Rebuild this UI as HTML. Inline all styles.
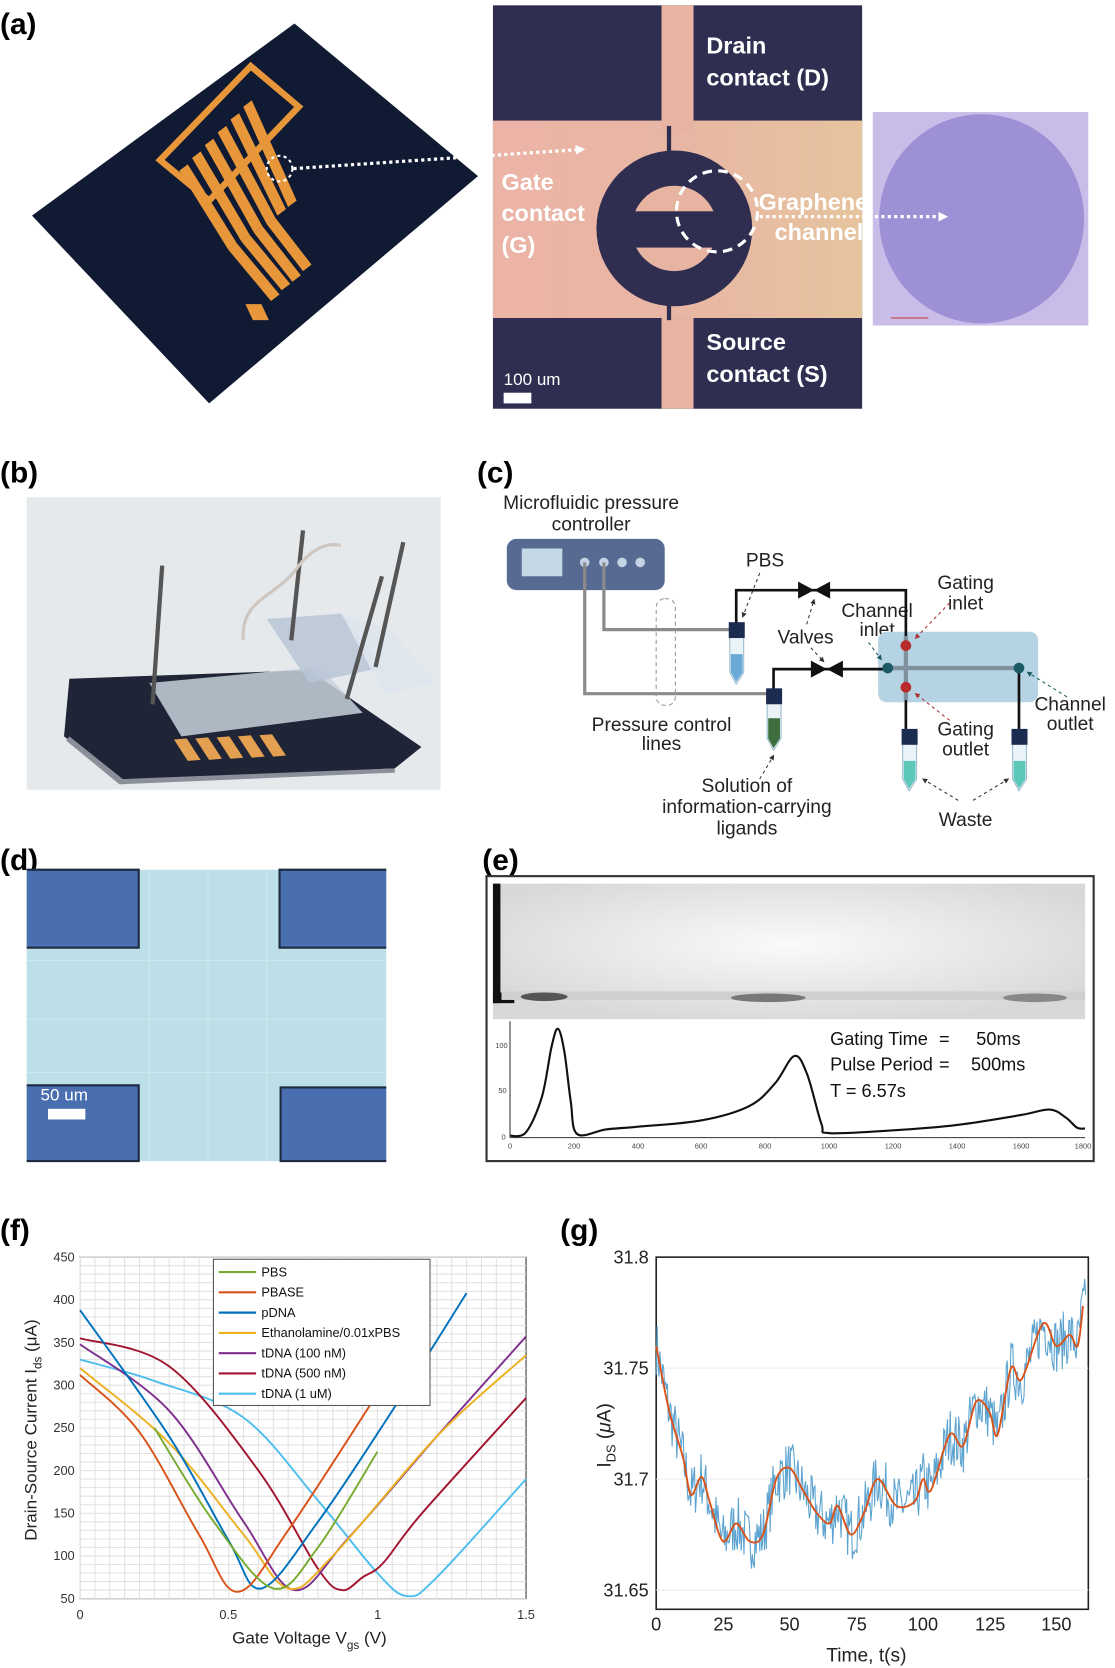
<!DOCTYPE html>
<html><head><meta charset="utf-8"><style>
html,body{margin:0;padding:0;background:#fff;}
svg{display:block;}
text{font-family:"Liberation Sans",Arial,sans-serif;}
</style></head><body>
<svg id="s" width="1115" height="1668" viewBox="0 0 1045 1563" preserveAspectRatio="none" xmlns="http://www.w3.org/2000/svg">
<defs>
<linearGradient id="gb" x1="0" x2="1"><stop offset="0" stop-color="#ecb4a6"/><stop offset="0.5" stop-color="#e8b6a4"/><stop offset="1" stop-color="#e6c49e"/></linearGradient>
<radialGradient id="gp" cx="0.5" cy="0.45" r="0.6"><stop offset="0" stop-color="#fafafa"/><stop offset="1" stop-color="#d8d8d8"/></radialGradient>
<marker id="ah" viewBox="0 0 10 10" refX="8" refY="5" markerWidth="5" markerHeight="5" orient="auto"><path d="M0,0 L10,5 L0,10 z" fill="#333"/></marker>
<marker id="ahr" viewBox="0 0 10 10" refX="8" refY="5" markerWidth="5" markerHeight="5" orient="auto"><path d="M0,0 L10,5 L0,10 z" fill="#a33"/></marker>
<marker id="aht" viewBox="0 0 10 10" refX="8" refY="5" markerWidth="5" markerHeight="5" orient="auto"><path d="M0,0 L10,5 L0,10 z" fill="#1c5a66"/></marker>
<marker id="ahw" viewBox="0 0 10 10" refX="6" refY="5" markerWidth="3" markerHeight="3" orient="auto"><path d="M0,0 L10,5 L0,10 z" fill="#fff"/></marker>
</defs>

<!-- ========== (a) ========== -->
<text x="0" y="32" font-size="28" font-weight="bold">(a)</text>
<polygon points="276,22 448,165 196,378 30,202" fill="#101a33"/>
<g fill="#e8963a">
<polygon points="150,150 235,62 280,100 196,188" fill="none" stroke="#e8963a" stroke-width="6"/>
<polygon points="168,160 176,154 222,228 214,234"/>
<polygon points="180,148 188,142 234,220 226,226"/>
<polygon points="192,136 200,130 246,212 238,218"/>
<polygon points="204,124 212,118 258,204 250,210"/>
<polygon points="216,112 224,106 268,196 260,202"/>
<polygon points="228,100 236,94 278,188 270,194"/>
<polygon points="214,234 222,228 262,276 254,282"/>
<polygon points="226,226 234,220 272,266 264,272"/>
<polygon points="238,218 246,212 282,258 274,264"/>
<polygon points="250,210 258,204 292,248 284,254"/>
<polygon points="230,285 245,285 252,300 237,300"/>
</g>

<rect x="462" y="5" width="346" height="378" fill="#2f2e50"/>
<rect x="462" y="113" width="346" height="185" fill="url(#gb)"/>
<rect x="620" y="5" width="30" height="120" fill="#e6b4a0"/>
<rect x="620" y="298" width="30" height="85" fill="#e6b4a0"/>
<rect x="625" y="118" width="4" height="182" fill="#2f2e50"/>
<circle cx="632" cy="214" r="73" fill="#2f2e50"/>
<circle cx="632" cy="214" r="40" fill="#e6b4a0"/>
<rect x="590" y="198" width="84" height="34" fill="#2f2e50"/>
<circle cx="672" cy="198" r="38" fill="none" stroke="#fff" stroke-width="3" stroke-dasharray="9,6"/>

<rect x="818" y="105" width="202" height="200" fill="#c9bce8"/>
<ellipse cx="920" cy="205" rx="96" ry="98" fill="#9d90d4"/>
<line x1="870" y1="298" x2="835" y2="298" stroke="#c33" stroke-width="1"/>

<circle cx="262" cy="158" r="12" fill="none" stroke="#fff" stroke-width="2" stroke-dasharray="3,3"/>
<line x1="275" y1="158" x2="545" y2="140" stroke="#fff" stroke-width="3" stroke-dasharray="3,3" marker-end="url(#ahw)"/>
<line x1="712" y1="203" x2="885" y2="203" stroke="#fff" stroke-width="3" stroke-dasharray="3,3" marker-end="url(#ahw)"/>
<g fill="#fff" font-weight="bold" font-size="22">
<text x="662" y="50">Drain</text><text x="662" y="80">contact (D)</text>
<text x="470" y="178">Gate</text><text x="470" y="207">contact</text><text x="470" y="237">(G)</text>
<text x="711" y="197">Graphene</text><text x="726" y="225">channel</text>
<text x="662" y="328">Source</text><text x="662" y="358">contact (S)</text>
</g>
<text x="472" y="361" font-size="16" fill="#fff">100 um</text>
<rect x="472" y="368" width="26" height="10" fill="#fff"/>

<!-- ========== (b) ========== -->
<text x="0" y="452" font-size="28" font-weight="bold">(b)</text>
<rect x="25" y="466" width="388" height="274" fill="#e6e9ec"/>
<polygon points="65,636 290,628 395,700 370,720 115,732 60,690" fill="#1f2536"/>
<polygon points="65,690 115,730 370,720 370,724 112,735 62,694" fill="#8a8f9a"/>
<polygon points="140,640 300,625 340,668 170,690" fill="#c8d2dc" opacity="0.85"/>
<polygon points="250,580 320,575 360,625 290,640" fill="#b8c6d6" opacity="0.85"/>
<polygon points="320,575 365,590 410,640 360,650" fill="#dfe6ee" opacity="0.9"/>
<g fill="#e3a050">
<polygon points="163,693 175,692 188,712 176,713"/><polygon points="183,692 195,691 208,711 196,712"/>
<polygon points="203,691 215,690 228,710 216,711"/><polygon points="223,690 235,689 248,709 236,710"/>
<polygon points="243,689 255,688 268,708 256,709"/>
</g>
<g stroke="#555" stroke-width="4">
<line x1="152" y1="530" x2="143" y2="660"/><line x1="284" y1="497" x2="273" y2="600"/>
<line x1="358" y1="540" x2="325" y2="655"/><line x1="378" y1="508" x2="352" y2="625"/>
</g>
<path d="M228,600 C225,560 260,560 280,530 C300,505 320,510 318,512" fill="none" stroke="#cfc6c0" stroke-width="3"/>

<!-- ========== (c) ========== -->
<text x="447" y="452" font-size="28" font-weight="bold">(c)</text>
<g font-size="18" fill="#222" text-anchor="middle">
<text x="554" y="477">Microfluidic pressure</text><text x="554" y="497">controller</text>
<text x="717" y="531">PBS</text>
<text x="755" y="603">Valves</text>
<text x="822" y="578">Channel</text><text x="822" y="596">inlet</text>
<text x="905" y="552">Gating</text><text x="905" y="571">inlet</text>
<text x="1003" y="666">Channel</text><text x="1003" y="684">outlet</text>
<text x="905" y="689">Gating</text><text x="905" y="708">outlet</text>
<text x="620" y="685">Pressure control</text><text x="620" y="703">lines</text>
<text x="700" y="742">Solution of</text><text x="700" y="762">information-carrying</text><text x="700" y="782">ligands</text>
<text x="905" y="774">Waste</text>
</g>
<rect x="475" y="505" width="148" height="48" rx="9" fill="#566a92"/>
<rect x="489" y="514" width="38" height="26" fill="#c4d8e8"/>
<g fill="#c4d4e6"><circle cx="548" cy="527" r="4.5"/><circle cx="566" cy="527" r="4.5"/><circle cx="583" cy="527" r="4.5"/><circle cx="600" cy="527" r="4.5"/></g>
<g fill="none" stroke="#8a8a8a" stroke-width="3">
<polyline points="548,527 548,650 722,650"/><polyline points="566,527 566,590 688,590"/>
</g>
<rect x="615" y="561" width="18" height="100" rx="8" fill="none" stroke="#999" stroke-dasharray="4,3"/>
<rect x="823" y="592" width="150" height="66" rx="8" fill="#b6d3e3"/>
<g fill="none" stroke="#111" stroke-width="2.5">
<polyline points="690,586 690,553 849,553 849,600"/>
<polyline points="725,646 725,627 832,627"/>
<polyline points="849,648 849,685"/><polyline points="955,627 955,685"/>
</g>
<g fill="#111">
<polygon points="748,545 763,553 748,561"/><polygon points="778,545 763,553 778,561"/>
<polygon points="760,619 775,627 760,635"/><polygon points="790,619 775,627 790,635"/>
</g>
<g stroke="#7f919c" stroke-width="4"><line x1="832" y1="626" x2="955" y2="626"/><line x1="849" y1="596" x2="849" y2="656"/></g>
<circle cx="849" cy="605" r="5" fill="#b82c2c"/><circle cx="849" cy="644" r="5" fill="#b82c2c"/>
<circle cx="832" cy="626" r="5" fill="#1c5a66"/><circle cx="955" cy="626" r="5" fill="#1c5a66"/>
<g>
<rect x="683" y="583" width="15" height="15" fill="#1c2b50"/>
<path d="M684,598 L684,630 L690,641 L697,630 L697,598" fill="#eaf3f8" stroke="#9bbbd0"/>
<path d="M685,613 L685,630 L690,639 L696,630 L696,613z" fill="#6aaad8"/>
<rect x="718" y="645" width="15" height="15" fill="#1c2b50"/>
<path d="M719,660 L719,692 L725,703 L732,692 L732,660" fill="#eaf3f8" stroke="#9bbbd0"/>
<path d="M720,673 L720,692 L725,701 L731,692 L731,673z" fill="#3e6e3e"/>
<rect x="845" y="683" width="15" height="15" fill="#1c2b50"/>
<path d="M846,698 L846,730 L852,741 L859,730 L859,698" fill="#eaf3f8" stroke="#9bbbd0"/>
<path d="M847,713 L847,730 L852,739 L858,730 L858,713z" fill="#5cc8b8"/>
<rect x="948" y="683" width="15" height="15" fill="#1c2b50"/>
<path d="M949,698 L949,730 L955,741 L962,730 L962,698" fill="#eaf3f8" stroke="#9bbbd0"/>
<path d="M950,713 L950,730 L955,739 L961,730 L961,713z" fill="#5cc8b8"/>
</g>
<g stroke="#333" stroke-width="1" stroke-dasharray="3,3" fill="none">
<line x1="712" y1="537" x2="696" y2="578" marker-end="url(#ah)"/>
<line x1="756" y1="585" x2="763" y2="562" marker-end="url(#ah)"/>
<line x1="760" y1="607" x2="772" y2="620" marker-end="url(#ah)"/>
<line x1="814" y1="602" x2="826" y2="618" stroke="#1c5a66" marker-end="url(#aht)"/>
<line x1="712" y1="730" x2="725" y2="708" marker-end="url(#ah)"/>
<line x1="898" y1="750" x2="865" y2="730" marker-end="url(#ah)"/>
<line x1="912" y1="750" x2="945" y2="730" marker-end="url(#ah)"/>
<line x1="1000" y1="653" x2="963" y2="630" marker-end="url(#aht)" stroke="#1c5a66"/>
<line x1="890" y1="565" x2="858" y2="598" stroke="#a33" marker-end="url(#ahr)"/>
<line x1="890" y1="675" x2="858" y2="650" stroke="#a33" marker-end="url(#ahr)"/>
</g>

<!-- ========== (d) ========== -->
<text x="0" y="815" font-size="28" font-weight="bold">(d)</text>
<rect x="25" y="815" width="337" height="273" fill="#bde0e8"/>
<g stroke="#cbe8ee" stroke-width="1">
<line x1="140" y1="815" x2="140" y2="1088"/><line x1="195" y1="815" x2="195" y2="1088"/><line x1="250" y1="815" x2="250" y2="1088"/>
<line x1="25" y1="900" x2="362" y2="900"/><line x1="25" y1="955" x2="362" y2="955"/><line x1="25" y1="1005" x2="362" y2="1005"/>
</g>
<g fill="#4a6fb0" stroke="#1e2a40" stroke-width="2">
<path d="M25,815 H130 V888 H25" /><path d="M362,815 H262 V888 H362"/>
<path d="M25,1088 H130 V1017 H25"/><path d="M362,1088 H263 V1019 H362"/>
</g>
<text x="38" y="1031" font-size="16" fill="#fff">50 um</text>
<rect x="45" y="1039" width="35" height="10" fill="#fff"/>

<!-- ========== (e) ========== -->
<text x="452" y="815" font-size="28" font-weight="bold">(e)</text>
<rect x="456" y="821" width="569" height="267" fill="#fff" stroke="#333" stroke-width="2"/>
<rect x="462" y="828" width="555" height="127" fill="url(#gp)"/>
<rect x="462" y="828" width="7" height="112" fill="#111"/>
<rect x="462" y="930" width="20" height="10" fill="#111"/>
<rect x="470" y="929" width="547" height="8" fill="#d0d0d0"/>
<ellipse cx="510" cy="934" rx="22" ry="4" fill="#555"/>
<ellipse cx="720" cy="935" rx="35" ry="4" fill="#777"/>
<ellipse cx="970" cy="935" rx="30" ry="4" fill="#888"/>
<g stroke="#333" stroke-width="1"><line x1="478" y1="957" x2="478" y2="1066"/><line x1="478" y1="1066" x2="1017" y2="1066"/></g>
<g font-size="7" fill="#444" text-anchor="middle">
<text x="478" y="1076">0</text><text x="538" y="1076">200</text><text x="598" y="1076">400</text><text x="657" y="1076">600</text><text x="717" y="1076">800</text><text x="777" y="1076">1000</text><text x="837" y="1076">1200</text><text x="897" y="1076">1400</text><text x="957" y="1076">1600</text><text x="1015" y="1076">1800</text>
<text x="470" y="982">100</text><text x="471" y="1024">50</text><text x="472" y="1068">0</text>
</g>
<path id="ecurve" fill="none" stroke="#111" stroke-width="2"/>
<g font-size="17" fill="#111">
<text x="778" y="979">Gating Time</text><text x="880" y="979">=</text><text x="915" y="979">50ms</text>
<text x="778" y="1003">Pulse Period</text><text x="880" y="1003">=</text><text x="910" y="1003">500ms</text>
<text x="778" y="1028">T = 6.57s</text>
</g>

<!-- ========== (f) ========== -->
<text x="0" y="1162" font-size="28" font-weight="bold">(f)</text>
<rect x="75" y="1178" width="418" height="320" fill="#fff" stroke="#333" stroke-width="1"/>
<g id="fgrid" stroke="#e2e2e2" stroke-width="1"></g>
<g id="fcurves" fill="none" stroke-width="1.8"></g>
<rect x="200" y="1180" width="203" height="137" fill="#fff" stroke="#555"/>
<g font-size="12" fill="#111">
<line x1="205" y1="1192" x2="240" y2="1192" stroke="#77ac30" stroke-width="2"/><text x="245" y="1196">PBS</text>
<line x1="205" y1="1211" x2="240" y2="1211" stroke="#d95319" stroke-width="2"/><text x="245" y="1215">PBASE</text>
<line x1="205" y1="1230" x2="240" y2="1230" stroke="#0072bd" stroke-width="2"/><text x="245" y="1234">pDNA</text>
<line x1="205" y1="1249" x2="240" y2="1249" stroke="#edb120" stroke-width="2"/><text x="245" y="1253">Ethanolamine/0.01xPBS</text>
<line x1="205" y1="1268" x2="240" y2="1268" stroke="#7e2f8e" stroke-width="2"/><text x="245" y="1272">tDNA (100 nM)</text>
<line x1="205" y1="1287" x2="240" y2="1287" stroke="#a2142f" stroke-width="2"/><text x="245" y="1291">tDNA (500 nM)</text>
<line x1="205" y1="1306" x2="240" y2="1306" stroke="#4dbeee" stroke-width="2"/><text x="245" y="1310">tDNA (1 uM)</text>
</g>
<g font-size="12" fill="#333" text-anchor="end">
<text x="70" y="1182">450</text><text x="70" y="1222">400</text><text x="70" y="1262">350</text><text x="70" y="1302">300</text><text x="70" y="1342">250</text><text x="70" y="1382">200</text><text x="70" y="1422">150</text><text x="70" y="1462">100</text><text x="70" y="1502">50</text>
</g>
<g font-size="12" fill="#333" text-anchor="middle">
<text x="75" y="1517">0</text><text x="214" y="1517">0.5</text><text x="354" y="1517">1</text><text x="493" y="1517">1.5</text>
</g>
<text x="290" y="1540" font-size="16" text-anchor="middle" fill="#222">Gate Voltage V<tspan font-size="11" dy="5">gs</tspan><tspan dy="-5"> (V)</tspan></text>
<text transform="translate(34,1340) rotate(-90)" font-size="16" text-anchor="middle" fill="#222">Drain-Source Current I<tspan font-size="11" dy="5">ds</tspan><tspan dy="-5"> (μA)</tspan></text>

<!-- ========== (g) ========== -->
<text x="525" y="1162" font-size="28" font-weight="bold">(g)</text>
<rect x="615" y="1178" width="405" height="330" fill="#fff" stroke="#222" stroke-width="1.5"/>
<g stroke="#eee"><line x1="615" y1="1282" x2="1020" y2="1282"/><line x1="615" y1="1386" x2="1020" y2="1386"/><line x1="615" y1="1490" x2="1020" y2="1490"/></g>
<path id="gblue" fill="none" stroke="#5aa2d0" stroke-width="1"/>
<path id="gorange" fill="none" stroke="#d9541a" stroke-width="1.8"/>
<g font-size="17" fill="#222" text-anchor="end">
<text x="608" y="1184">31.8</text><text x="608" y="1288">31.75</text><text x="608" y="1392">31.7</text><text x="608" y="1496">31.65</text>
</g>
<g font-size="17" fill="#222" text-anchor="middle">
<text x="615" y="1528">0</text><text x="678" y="1528">25</text><text x="740" y="1528">50</text><text x="803" y="1528">75</text><text x="865" y="1528">100</text><text x="928" y="1528">125</text><text x="990" y="1528">150</text>
</g>
<text x="812" y="1557" font-size="18" text-anchor="middle" fill="#222">Time, t(s)</text>
<text transform="translate(572,1345) rotate(-90)" font-size="18" text-anchor="middle" fill="#222">I<tspan font-size="12" dy="5">DS</tspan><tspan dy="-5"> (</tspan><tspan font-style="italic">μ</tspan>A)</text>
</svg>
<script>
function cr(pts){var d="M"+pts[0][0]+","+pts[0][1];for(var i=0;i<pts.length-1;i++){var p0=pts[i-1]||pts[i],p1=pts[i],p2=pts[i+1],p3=pts[i+2]||p2;var c1x=p1[0]+(p2[0]-p0[0])/6,c1y=p1[1]+(p2[1]-p0[1])/6,c2x=p2[0]-(p3[0]-p1[0])/6,c2y=p2[1]-(p3[1]-p1[1])/6;d+=" C"+c1x.toFixed(1)+","+c1y.toFixed(1)+" "+c2x.toFixed(1)+","+c2y.toFixed(1)+" "+p2[0].toFixed(1)+","+p2[1].toFixed(1);}return d;}
var ep=[[0,2],[50,6],[100,45],[130,100],[150,120],[170,95],[190,40],[210,4],[300,9],[400,12],[600,19],[750,35],[830,60],[890,90],[930,70],[975,15],[1000,5],[1200,8],[1400,14],[1600,25],[1690,31],[1740,22],[1775,11],[1800,10]];
document.getElementById("ecurve").setAttribute("d",cr(ep.map(function(p){return [478+p[0]*0.2994,1066-p[1]*0.85];})));
var NS="http://www.w3.org/2000/svg",g=document.getElementById("fgrid");
for(var v=0;v<=1.5;v+=0.05){var l=document.createElementNS(NS,"line");var x=75+v*278.7;l.setAttribute("x1",x);l.setAttribute("x2",x);l.setAttribute("y1",1178);l.setAttribute("y2",1498);g.appendChild(l);}
for(var c=50;c<=450;c+=10){var l=document.createElementNS(NS,"line");var y=1498-(c-50)*0.8;l.setAttribute("x1",75);l.setAttribute("x2",493);l.setAttribute("y1",y);l.setAttribute("y2",y);g.appendChild(l);}
var curves=[["#4dbeee",[[0,330],[0.25,305],[0.55,262],[0.8,165],[1.0,80],[1.1,53],[1.2,75],[1.5,190]]],
["#a2142f",[[0,355],[0.3,322],[0.6,200],[0.8,85],[0.88,60],[0.95,75],[1.02,92],[1.15,150],[1.5,285]]],
["#7e2f8e",[[0,348],[0.3,270],[0.55,140],[0.72,60],[0.9,120],[1.2,240],[1.5,357]]],
["#edb120",[[0,320],[0.3,232],[0.55,125],[0.7,62],[0.85,100],[1.2,240],[1.5,335]]],
["#0072bd",[[0,388],[0.3,240],[0.5,118],[0.61,62],[0.8,140],[1.05,270],[1.3,408]]],
["#d95319",[[0,312],[0.2,245],[0.4,125],[0.53,58],[0.7,130],[1.0,290]]],
["#77ac30",[[0.25,250],[0.45,140],[0.65,62],[0.8,110],[1.0,222]]]];
var fc=document.getElementById("fcurves");
curves.forEach(function(cv){var p=document.createElementNS(NS,"path");p.setAttribute("stroke",cv[0]);p.setAttribute("d",cr(cv[1].map(function(q){return [75+q[0]*278.7,1498-(q[1]-50)*0.8];})));fc.appendChild(p);});
var op=[[0,31.76],[5,31.73],[10,31.71],[13,31.693],[17,31.701],[20,31.69],[25,31.672],[30,31.68],[35,31.672],[40,31.675],[45,31.70],[50,31.705],[55,31.695],[60,31.685],[65,31.68],[68,31.688],[73,31.675],[78,31.685],[83,31.70],[90,31.688],[97,31.69],[100,31.70],[103,31.695],[110,31.72],[115,31.715],[120,31.735],[125,31.73],[128,31.72],[133,31.75],[137,31.745],[145,31.77],[150,31.76],[155,31.765],[158,31.76],[160,31.778]];
function X(t){return 615+t*2.5;}function Y(i){return 1178+(31.8-i)*2080;}
document.getElementById("gorange").setAttribute("d",cr(op.map(function(p){return [X(p[0]),Y(p[1])];})));
function interp(t){for(var i=0;i<op.length-1;i++){if(t<=op[i+1][0]){var a=op[i],b=op[i+1],f=(t-a[0])/(b[0]-a[0]);return a[1]+f*(b[1]-a[1]);}}return op[op.length-1][1];}
var seed=7;function rnd(){seed=(seed*16807)%2147483647;return seed/2147483647;}
var d="";for(var t=0;t<=161;t+=0.35){var v=interp(Math.min(t,160))+(rnd()-0.5)*0.026;if(v>31.8)v=31.8;d+=(d?" L":"M")+X(t).toFixed(1)+","+Y(v).toFixed(1);}
document.getElementById("gblue").setAttribute("d",d);
</script>
</body></html>
